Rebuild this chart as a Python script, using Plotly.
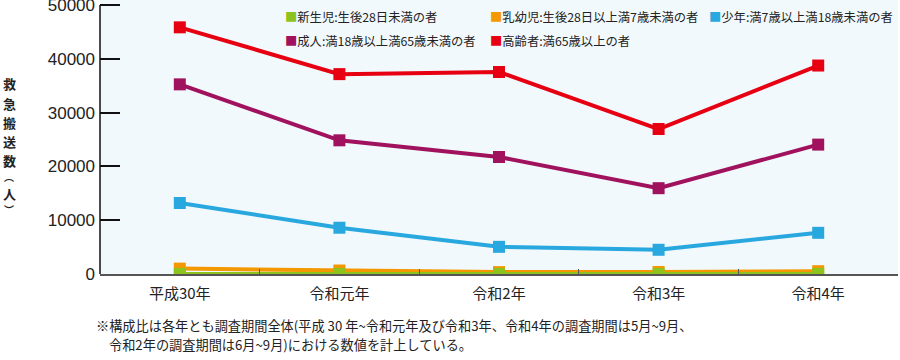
import plotly.graph_objects as go

categories = ["平成30年", "令和元年", "令和2年", "令和3年", "令和4年"]
series_names = [
    "新生児:生後28日未満の者",
    "乳幼児:生後28日以上満7歳未満の者",
    "少年:満7歳以上満18歳未満の者",
    "成人:満18歳以上満65歳未満の者",
    "高齢者:満65歳以上の者",
]
newborn = [20, 15, 10, 12, 18]
infant = [1000, 650, 350, 380, 520]
youth = [13200, 8600, 5050, 4500, 7650]
adult = [35250, 24850, 21750, 15950, 24050]
elderly = [45850, 37150, 37550, 26950, 38750]
y_ticks = [0, 10000, 20000, 30000, 40000, 50000]

values = [newborn, infant, youth, adult, elderly]
colors = ["#8DC21F", "#F39800", "#29A8E0", "#A0125E", "#E60012"]

W, H = 900, 360
L, R, T, B = 100, 2, 0, 86
pw, ph = W - L - R, H - T - B

def px_x(x):
    return (x - L) / pw

def px_y(y):
    return (H - B - y) / ph

fig = go.Figure()
# draw order: red, purple, blue, orange, green (green on top)
for i in [4, 3, 2, 1, 0]:
    fig.add_trace(go.Scatter(
        x=categories, y=values[i], name=series_names[i], mode="lines+markers",
        line=dict(color=colors[i], width=4),
        marker=dict(symbol="square", size=12, color=colors[i]),
        showlegend=False,
    ))

ymax = 50000 * ph / (ph - 5)

fig.update_layout(
    width=W, height=H,
    margin=dict(l=L, r=R, t=T, b=B, autoexpand=False),
    paper_bgcolor="white",
    plot_bgcolor="#F2F9FC",
    font=dict(family="Noto Sans CJK JP", color="#222"),
    xaxis=dict(
        type="category", range=[-0.5, 4.5], showgrid=False, showline=True,
        linecolor="#555", linewidth=2, automargin=False,
        ticks="inside", tickson="boundaries", ticklen=5, tickcolor="#555", tickwidth=1,
        tickfont=dict(size=15, family="Noto Sans CJK JP", color="#222"),
        ticklabelstandoff=5, zeroline=False,
    ),
    yaxis=dict(
        range=[0, ymax], tickvals=y_ticks, tickformat="d", showgrid=False,
        showline=False, zeroline=False, automargin=False,
        ticks="inside", ticklen=20, tickcolor="#111", tickwidth=1.5,
        tickfont=dict(size=17, family="Liberation Sans, Arial", color="#222"),
        ticklabelstandoff=4, ticklabeloverflow="allow",
    ),
)

# y axis line up to 50000
fig.add_shape(type="line", xref="paper", yref="y", x0=0, x1=0, y0=0, y1=50000,
              line=dict(color="#111", width=1.5))

# legend as annotations
leg_pos = [(283, 17), (488, 17), (707, 17), (283, 41), (488, 41)]
for i, (lx, ly) in enumerate(leg_pos):
    fig.add_annotation(
        xref="paper", yref="paper", x=px_x(lx), y=px_y(ly), xanchor="left", yanchor="middle",
        showarrow=False,
        text=f'<span style="color:{colors[i]}">■</span>{series_names[i]}',
        font=dict(size=12.3, family="Noto Sans CJK JP", color="#222"),
    )

# y-axis title, vertical
title_items = [("救", 84, 13), ("急", 103, 13), ("搬", 122, 13), ("送", 141, 13),
               ("数", 160, 13), ("︵", 176.5, 10), ("人", 193, 13), ("︶", 209.5, 10)]
for ch, cy, fs in title_items:
    fig.add_annotation(
        xref="paper", yref="paper", x=px_x(9), y=px_y(cy), xanchor="center", yanchor="middle",
        showarrow=False, text=f"<b>{ch}</b>", borderpad=0,
        font=dict(size=fs, family="Noto Sans CJK JP", color="#222"),
    )

# footnote
fig.add_annotation(
    xref="paper", yref="paper", x=px_x(94), y=px_y(325), xanchor="left", yanchor="middle",
    showarrow=False,
    text="※構成比は各年とも調査期間全体(平成 30 年~令和元年及び令和3年、令和4年の調査期間は5月~9月、",
    font=dict(size=13.2, family="Noto Sans CJK JP", color="#222"),
)
fig.add_annotation(
    xref="paper", yref="paper", x=px_x(107), y=px_y(344), xanchor="left", yanchor="middle",
    showarrow=False,
    text="令和2年の調査期間は6月~9月)における数値を計上している。",
    font=dict(size=13.2, family="Noto Sans CJK JP", color="#222"),
)

fig.write_html("out.html", config={"displayModeBar": False},
               post_script="document.body.style.margin='0px';")
